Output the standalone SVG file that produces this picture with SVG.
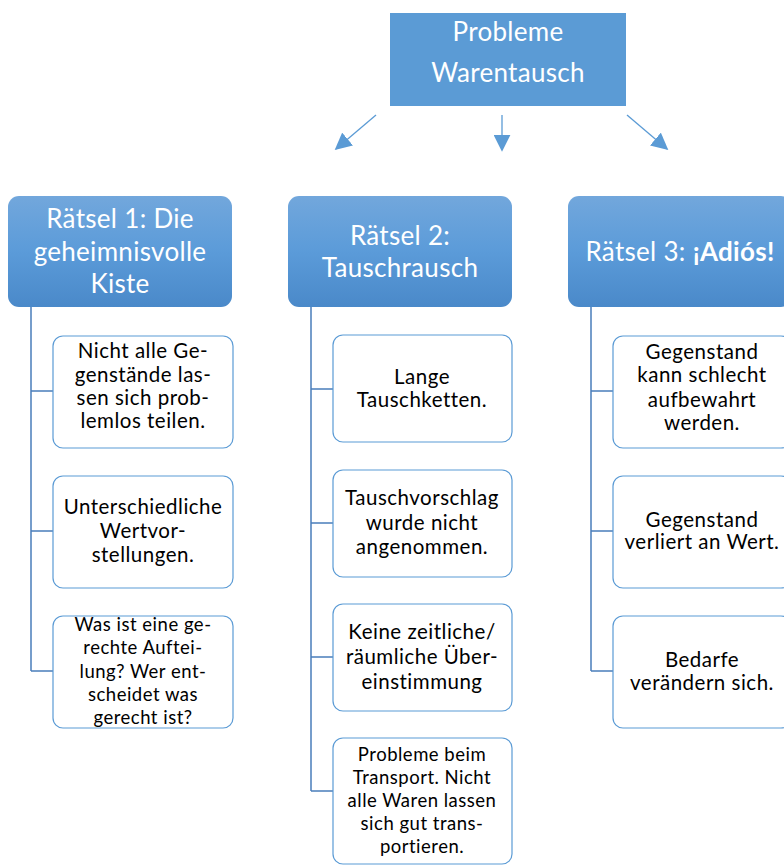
<svg xmlns="http://www.w3.org/2000/svg" width="784" height="865" viewBox="0 0 784 865">
<defs>
<linearGradient id="hg" x1="0" y1="0" x2="0" y2="1">
<stop offset="0" stop-color="#72A7DC"/>
<stop offset="0.5" stop-color="#5B9BD9"/>
<stop offset="1" stop-color="#4A89C9"/>
</linearGradient>
<marker id="ahb" viewBox="0 0 10 10" refX="9" refY="5" markerWidth="17" markerHeight="17" markerUnits="userSpaceOnUse" orient="auto">
<path d="M0,0 L10,5 L0,10 z" fill="#5B9BD5"/>
</marker>
</defs>
<style>
.top{fill:#5B9BD5}
.hdr{fill:url(#hg)}
.sub{fill:#FFFFFF;stroke:#5B9BD5;stroke-width:1.2}
.ht{font-family:Lato,"Liberation Sans",sans-serif;font-size:26px;letter-spacing:0.3px;fill:#FFFFFF;text-anchor:middle}
.st{font-family:Lato,"Liberation Sans",sans-serif;font-size:20.5px;letter-spacing:0.5px;fill:#000000;text-anchor:middle}
.ss{font-family:Lato,"Liberation Sans",sans-serif;font-size:18.5px;letter-spacing:0.5px;fill:#000000;text-anchor:middle}
.con{fill:none;stroke:#4A7EBB;stroke-width:1.5}
.arr{fill:none;stroke:#5B9BD5;stroke-width:1.3}
</style>
<g id="connectors">
<line class="arr" x1="376" y1="115" x2="336" y2="149" marker-end="url(#ahb)"/>
<line class="arr" x1="502" y1="115" x2="502" y2="150" marker-end="url(#ahb)"/>
<line class="arr" x1="627" y1="115" x2="667" y2="149" marker-end="url(#ahb)"/>
<path class="con" d="M31,307 V671 M31,391 H53 M31,531 H53 M31,671 H53"/>
<path class="con" d="M311,307 V791 M311,389 H333 M311,523 H333 M311,657 H333 M311,791 H333"/>
<path class="con" d="M591,307 V671 M591,391 H613 M591,531 H613 M591,671 H613"/>
</g>
<g id="top">
<rect class="top" x="390" y="13" width="236" height="93"/>
<text class="ht" x="508" y="41">Probleme</text>
<text class="ht" x="508" y="82">Warentausch</text>
</g>
<g id="h1">
<rect class="hdr" x="8" y="196" width="224" height="111" rx="11"/>
<text class="ht" x="120" y="228">Rätsel 1: Die</text>
<text class="ht" x="120" y="261">geheimnisvolle</text>
<text class="ht" x="120" y="293">Kiste</text>
</g>
<g id="h2">
<rect class="hdr" x="288" y="196" width="224" height="111" rx="11"/>
<text class="ht" x="400" y="245">Rätsel 2:</text>
<text class="ht" x="400" y="277">Tauschrausch</text>
</g>
<g id="h3">
<rect class="hdr" x="568" y="196" width="224" height="111" rx="11"/>
<text class="ht" x="680" y="261">Rätsel 3: <tspan font-weight="bold">¡Adiós!</tspan></text>
</g>
<g id="n1a">
<rect class="sub" x="53" y="336" width="180" height="112" rx="10"/>
<text class="st" x="143" y="358">Nicht alle Ge-</text>
<text class="st" x="143" y="382">genstände las-</text>
<text class="st" x="143" y="405">sen sich prob-</text>
<text class="st" x="143" y="428">lemlos teilen.</text>
</g>
<g id="n1b">
<rect class="sub" x="53" y="476" width="180" height="112" rx="10"/>
<text class="st" x="143" y="514">Unterschiedliche</text>
<text class="st" x="143" y="538">Wertvor-</text>
<text class="st" x="143" y="562">stellungen.</text>
</g>
<g id="n1c">
<rect class="sub" x="53" y="616" width="180" height="112" rx="10"/>
<text class="ss" x="143" y="631">Was ist eine ge-</text>
<text class="ss" x="143" y="654">rechte Auftei-</text>
<text class="ss" x="143" y="678">lung? Wer ent-</text>
<text class="ss" x="143" y="701">scheidet was</text>
<text class="ss" x="143" y="724">gerecht ist?</text>
</g>
<g id="n2a">
<rect class="sub" x="333" y="335" width="179" height="107" rx="10"/>
<text class="st" x="422" y="384">Lange</text>
<text class="st" x="422" y="407">Tauschketten.</text>
</g>
<g id="n2b">
<rect class="sub" x="333" y="470" width="179" height="107" rx="10"/>
<text class="st" x="422" y="505">Tauschvorschlag</text>
<text class="st" x="422" y="530">wurde nicht</text>
<text class="st" x="422" y="554">angenommen.</text>
</g>
<g id="n2c">
<rect class="sub" x="333" y="604" width="179" height="107" rx="10"/>
<text class="st" x="422" y="639">Keine zeitliche/</text>
<text class="st" x="422" y="664">räumliche Über-</text>
<text class="st" x="422" y="689">einstimmung</text>
</g>
<g id="n2d">
<rect class="sub" x="333" y="738" width="179" height="126" rx="10"/>
<text class="ss" x="422" y="761">Probleme beim</text>
<text class="ss" x="422" y="784">Transport. Nicht</text>
<text class="ss" x="422" y="807">alle Waren lassen</text>
<text class="ss" x="422" y="830">sich gut trans-</text>
<text class="ss" x="422" y="853">portieren.</text>
</g>
<g id="n3a">
<rect class="sub" x="613" y="336" width="178" height="112" rx="10"/>
<text class="st" x="702" y="359">Gegenstand</text>
<text class="st" x="702" y="382">kann schlecht</text>
<text class="st" x="702" y="407">aufbewahrt</text>
<text class="st" x="702" y="430">werden.</text>
</g>
<g id="n3b">
<rect class="sub" x="613" y="476" width="178" height="112" rx="10"/>
<text class="st" x="702" y="527">Gegenstand</text>
<text class="st" x="702" y="549">verliert an Wert.</text>
</g>
<g id="n3c">
<rect class="sub" x="613" y="616" width="178" height="112" rx="10"/>
<text class="st" x="702" y="667">Bedarfe</text>
<text class="st" x="702" y="690">verändern sich.</text>
</g>
</svg>
